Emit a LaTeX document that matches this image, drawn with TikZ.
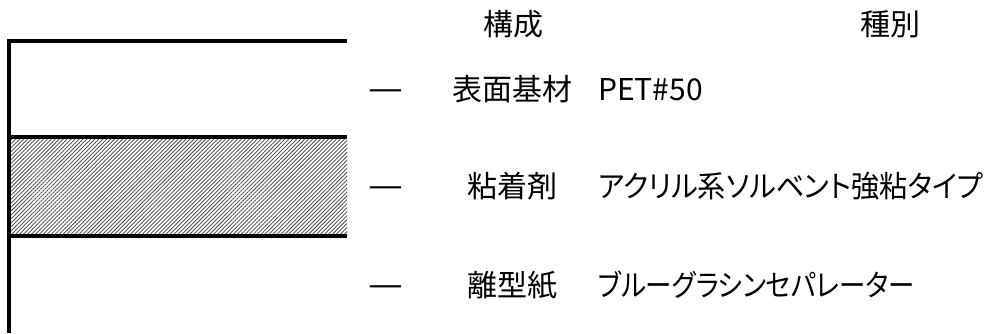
\documentclass[tikz,border=0pt]{standalone}
\usepackage{fontspec}
\setmainfont{Noto Sans CJK JP}[RawFeature=+palt]
\usetikzlibrary{patterns.meta}
\newcommand{\narrowtxt}[2]{\scalebox{#1}[1]{#2}}
\newcommand{\longdash}{\scalebox{1.3}[1.15]{—}}
\begin{document}
\begin{tikzpicture}[x=1pt,y=-1pt,
  txt/.style={font=\fontsize{30}{36}\selectfont, inner sep=0pt, anchor=base},
  txtl/.style={txt, anchor=base west},
  rule/.style={line width=3.5pt, black}]
\useasboundingbox (0,0) rectangle (991,333);
% hatched adhesive layer
\fill[pattern={Lines[angle=45,distance=2.8pt,line width=0.9pt]}, pattern color=black!65]
  (9,137) rectangle (347,236);
% layer boundaries
\coordinate (l1a) at (7.25,41); \coordinate (l1b) at (347,41);
\coordinate (l2a) at (9,137);  \coordinate (l2b) at (347,137);
\coordinate (l3a) at (9,236);  \coordinate (l3b) at (347,236);
\coordinate (va) at (9,39.25); \coordinate (vb) at (9,333);
\draw[rule] (l1a) -- (l1b);
\draw[rule] (l2a) -- (l2b);
\draw[rule] (l3a) -- (l3b);
\draw[rule] (va) -- (vb);
% headers
\node[txt] (h1) at (513,35) {構成};
\node[txt] (h2) at (890,35) {種別};
% rows
\node[txt] (d1) at (386,100) {\longdash};
\node[txt] (c1) at (512,100) {表面基材};
\node[txtl] (t1) at (598,100) {PET\#50};
\node[txt] (d2) at (386,197) {\longdash};
\node[txt] (c2) at (512,197) {粘着剤};
\node[txtl] (t2) at (598,197) {\narrowtxt{0.94}{アクリル系ソルベント強粘タイプ}};
\node[txt] (d3) at (386,296) {\longdash};
\node[txt] (c3) at (512,296) {離型紙};
\node[txtl] (t3) at (598,296) {\narrowtxt{0.88}{ブルーグラシンセパレーター}};
\end{tikzpicture}
\end{document}
